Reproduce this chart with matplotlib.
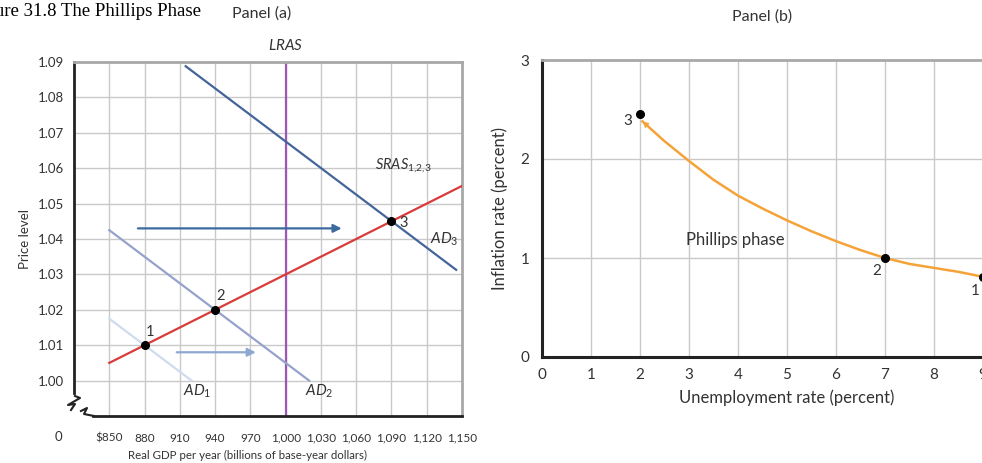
# Figure 31.8 The Phillips Phase
import matplotlib
matplotlib.use("Agg")
import matplotlib.pyplot as plt

plt.rcParams['font.family'] = ['Lato', 'DejaVu Sans']
plt.rcParams['mathtext.fontset'] = 'custom'
plt.rcParams['mathtext.it'] = 'Lato:italic'
plt.rcParams['mathtext.rm'] = 'Lato'

# panel (a) data
gdp_ticks = [850, 880, 910, 940, 970, 1000, 1030, 1060, 1090, 1120, 1150]
gdp_labels = ['$850', '880', '910', '940', '970', '1,000', '1,030', '1,060', '1,090', '1,120', '1,150']
price_ticks = [1.00, 1.01, 1.02, 1.03, 1.04, 1.05, 1.06, 1.07, 1.08, 1.09]
lras_gdp = 1000
sras_x = [850, 1150]
sras_y = [1.005, 1.055]
ad1_x = [850, 920]
ad1_y = [1.0175, 1.0]
ad2_x = [850, 1020]
ad2_y = [1.0425, 1.0]
ad3_x = [915, 1145]
ad3_y = [1.0888, 1.0313]
eq_x = [880, 940, 1090]
eq_y = [1.01, 1.02, 1.045]
eq_labels = ['1', '2', '3']
shift1_x = [905, 977]
shift1_y = 1.008
shift2_x = [872, 1050]
shift2_y = 1.043

# panel (b) data
unemp_ticks = [0, 1, 2, 3, 4, 5, 6, 7, 8, 9]
infl_ticks = [0, 1, 2, 3]
curve_u = [9.0, 8.5, 8.0, 7.5, 7.0, 6.5, 6.0, 5.5, 5.0, 4.5, 4.0, 3.5, 3.0, 2.5, 2.05]
curve_pi = [0.81, 0.86, 0.90, 0.94, 1.0, 1.08, 1.17, 1.27, 1.38, 1.50, 1.63, 1.79, 1.98, 2.18, 2.38]
phase_u = [9, 7, 2]
phase_pi = [0.81, 1.0, 2.45]
phase_labels = ['1', '2', '3']

TXT = '#333333'
fig = plt.figure(figsize=(9.82, 4.63), dpi=100)
W, H = 982, 463

fig.text(-0.031, 0.993, 'Figure 31.8 The Phillips Phase', family='Liberation Serif',
         fontsize=13.5, ha='left', va='top')

# ---------- panel (a) ----------
ax = fig.add_axes([74 / W, 47 / H, 388 / W, 354 / H])
ax.set_xlim(820, 1150)
ax.set_ylim(0.99, 1.09)
for g in gdp_ticks[:-1]:
    ax.axvline(g, color='#c9c9c9', lw=1, zorder=0)
for p in price_ticks[:-1]:
    ax.axhline(p, color='#c9c9c9', lw=1, zorder=0)

ax.set_xticks(gdp_ticks)
ax.set_xticklabels(gdp_labels)
ax.set_yticks(price_ticks)
ax.set_yticklabels(['%.2f' % p for p in price_ticks])
ax.tick_params(length=0, labelsize=8.5, colors=TXT)
ax.tick_params(axis='y', labelsize=9.5)
ax.tick_params(axis='x', pad=12)
ax.tick_params(axis='y', pad=7)
ax.set_xlabel('Real GDP per year (billions of base-year dollars)', fontsize=8.3, color=TXT)
ax.xaxis.set_label_coords((247 - 74) / 388, -(455 - 416) / 354)
ax.xaxis.label.set_va('center')
ax.set_ylabel('Price level', fontsize=9.5, color=TXT, labelpad=5)

for s in ['top', 'right']:
    ax.spines[s].set_color('#a8a8a8')
    ax.spines[s].set_linewidth(2)
ax.spines['left'].set_linewidth(2)
ax.spines['left'].set_color('#222222')
ax.spines['left'].set_bounds(0.9965, 1.09)
ax.spines['bottom'].set_linewidth(2)
ax.spines['bottom'].set_color('#222222')
ax.spines['bottom'].set_bounds(836, 1150)

# axis break
zx = [75, 80, 68, 75, 71]
zy = [396, 398, 405, 404, 410]
ax.plot([(x - 74) / 388 for x in zx], [(416 - y) / 354 for y in zy], color='#222222', lw=1.5,
        transform=ax.transAxes, clip_on=False)
zx = [81, 87, 84, 94]
zy = [411, 408, 414, 416]
ax.plot([(x - 74) / 388 for x in zx], [(416 - y) / 354 for y in zy], color='#222222', lw=1.5,
        transform=ax.transAxes, clip_on=False)
fig.text(58 / W, 1 - 437 / H, '0', fontsize=9.5, color=TXT, ha='center', va='center')

ax.axvline(lras_gdp, color='#9b59b6', lw=1.6, zorder=2)
ax.plot(ad1_x, ad1_y, color='#cfdcee', lw=1.6, zorder=2)
ax.plot(ad2_x, ad2_y, color='#95a3cc', lw=1.6, zorder=2)
ax.plot(ad3_x, ad3_y, color='#44649a', lw=1.6, zorder=2)
ax.plot(sras_x, sras_y, color='#d93b3b', lw=1.6, zorder=3)
ax.plot(eq_x, eq_y, 'o', color='black', ms=5.5, zorder=4)

ax.annotate('', xy=(shift1_x[1], shift1_y), xytext=(shift1_x[0], shift1_y),
            arrowprops=dict(arrowstyle='-|>', color='#8ea8d2', lw=1.6, mutation_scale=12))
ax.annotate('', xy=(shift2_x[1], shift2_y), xytext=(shift2_x[0], shift2_y),
            arrowprops=dict(arrowstyle='-|>', color='#3d6a9f', lw=1.6, mutation_scale=12))

for x, y, t, dx, dy in zip(eq_x, eq_y, eq_labels, [4.6, 5, 10.5], [0.0038, 0.004, -0.0005]):
    ax.text(x + dx, y + dy, t, fontsize=10.5, color=TXT, ha='center', va='center')
ax.text(925, 0.997, r'$AD_1$', fontsize=11, color=TXT, ha='center', va='center')
ax.text(1029, 0.997, r'$AD_2$', fontsize=11, color=TXT, ha='center', va='center')
ax.text(1135, 1.040, r'$AD_3$', fontsize=11, color=TXT, ha='center', va='center')
ax.text(1100, 1.061, r'$SRAS_{1{,}2{,}3}$', fontsize=10.5, color=TXT, ha='center', va='center')
ax.text(lras_gdp, 1.0948, r'$LRAS$', fontsize=11, color=TXT, ha='center', va='center', clip_on=False)
fig.text(262 / W, 1 - 14 / H, 'Panel (a)', fontsize=11.5, color=TXT, ha='center', va='center')

# ---------- panel (b) ----------
bx = fig.add_axes([542 / W, 106 / H, 490 / W, 297 / H])
bx.set_xlim(0, 10)
bx.set_ylim(0, 3)
for u in unemp_ticks[1:]:
    bx.axvline(u, color='#c9c9c9', lw=1, zorder=0)
for p in infl_ticks[1:-1]:
    bx.axhline(p, color='#c9c9c9', lw=1, zorder=0)
bx.set_xticks(unemp_ticks)
bx.set_yticks(infl_ticks)
bx.tick_params(length=0, labelsize=11, colors=TXT)
bx.tick_params(axis='x', pad=8)
bx.tick_params(axis='y', pad=9)
bx.set_xlabel('Unemployment rate (percent)', fontsize=12, color=TXT, labelpad=5)
bx.set_ylabel('Inflation rate (percent)', fontsize=12, color=TXT, labelpad=9)
bx.spines['top'].set_color('#a8a8a8')
bx.spines['top'].set_linewidth(2)
bx.spines['right'].set_visible(False)
for s in ['left', 'bottom']:
    bx.spines[s].set_linewidth(2.2)
    bx.spines[s].set_color('#222222')

bx.plot(curve_u, curve_pi, color='#f5a338', lw=1.8, zorder=2)
bx.annotate('', xy=(curve_u[-1], curve_pi[-1]), xytext=(curve_u[-2], curve_pi[-2]),
            arrowprops=dict(arrowstyle='-|>', color='#f5a338', lw=0.01, mutation_scale=12,
                            shrinkA=0, shrinkB=0))
bx.plot(phase_u, phase_pi, 'o', color='black', ms=5.5, zorder=4, clip_on=False)
for u, p, t, du, dp in zip(phase_u, phase_pi, phase_labels, [-0.16, -0.16, -0.25], [-0.14, -0.13, -0.07]):
    bx.text(u + du, p + dp, t, fontsize=11, color=TXT, ha='center', va='center')
bx.text(3.94, 1.18, 'Phillips phase', fontsize=12, color=TXT, ha='center', va='center')
fig.text(762 / W, 1 - 17 / H, 'Panel (b)', fontsize=11.5, color=TXT, ha='center', va='center')

fig.savefig('out.png', dpi=100)
